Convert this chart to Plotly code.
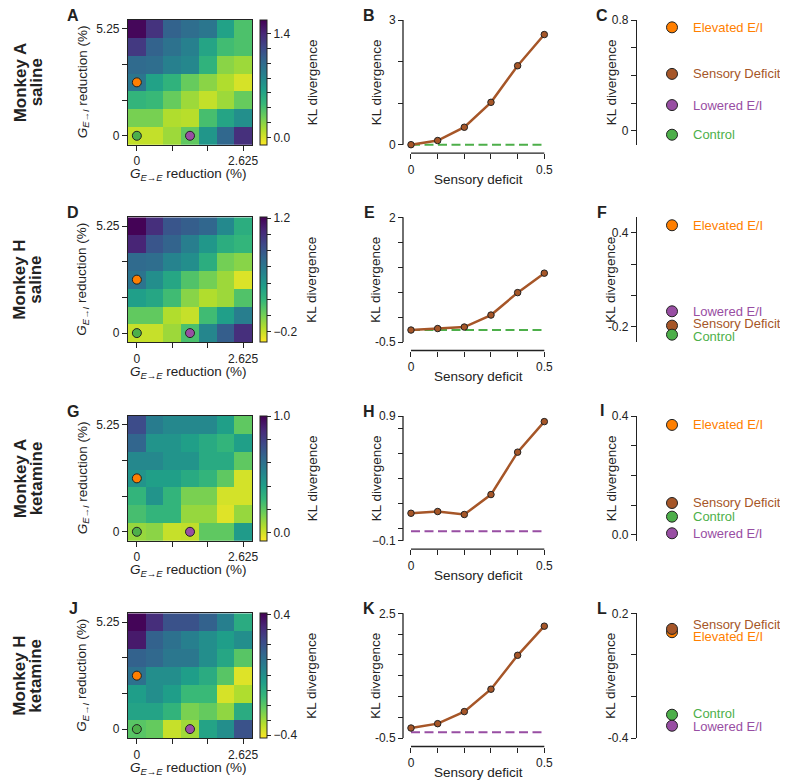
import plotly.graph_objects as go

# page body adds an 8px margin, so the figure is sized to fill the rest of the window
PAGE_W, PAGE_H = 788, 782
OFF = 8
W, H = PAGE_W - OFF, PAGE_H - OFF
FONT = "Liberation Sans, Arial, Helvetica, sans-serif"
INK = "#222222"

# ---------------- data ----------------
row_names = [("Monkey A", "saline"), ("Monkey H", "saline"),
             ("Monkey A", "ketamine"), ("Monkey H", "ketamine")]
panel_letters = [["A", "B", "C"], ["D", "E", "F"], ["G", "H", "I"], ["J", "K", "L"]]

gee_levels = [0, 0.4375, 0.875, 1.3125, 1.75, 2.1875, 2.625]
gei_levels = [0, 0.875, 1.75, 2.625, 3.5, 4.375, 5.25]
gee_ticks = [0, 0.875, 1.75, 2.625]
gee_ticktext = ["0", "", "", "2.625"]
gei_ticks = [0, 1.75, 3.5, 5.25]
gei_ticktext = ["0", "", "", "5.25"]

# KL divergence maps; rows listed from top (G_E->I = 5.25) to bottom (0)
kl_map_A_saline = [
    [1.55, 1.33, 1.05, 0.98, 0.92, 0.62, 0.38],
    [1.30, 1.05, 0.95, 0.85, 0.60, 0.42, 0.38],
    [1.00, 0.98, 0.85, 0.80, 0.50, 0.20, 0.15],
    [0.92, 0.62, 0.50, 0.30, 0.20, 0.10, 0.00],
    [0.48, 0.45, 0.30, 0.15, 0.05, 0.15, 0.30],
    [0.25, 0.25, 0.10, 0.08, 0.40, 0.60, 0.75],
    [0.05, 0.05, 0.15, 0.32, 0.70, 1.02, 1.35],
]
kl_map_H_saline = [
    [1.20, 1.00, 0.80, 0.75, 0.70, 0.48, 0.25],
    [1.05, 0.80, 0.72, 0.55, 0.40, 0.25, 0.20],
    [0.68, 0.66, 0.52, 0.45, 0.25, 0.00, -0.05],
    [0.62, 0.45, 0.30, 0.10, 0.00, -0.10, -0.25],
    [0.35, 0.30, 0.15, -0.05, -0.15, -0.10, 0.10],
    [0.05, 0.05, -0.15, -0.20, 0.15, 0.35, 0.55],
    [-0.20, -0.20, -0.10, 0.12, 0.50, 0.75, 1.00],
]
kl_map_A_ketamine = [
    [0.75, 0.55, 0.50, 0.50, 0.50, 0.40, 0.20],
    [0.65, 0.45, 0.45, 0.40, 0.35, 0.30, 0.40],
    [0.50, 0.50, 0.45, 0.45, 0.35, 0.35, 0.20],
    [0.45, 0.40, 0.40, 0.35, 0.30, 0.20, 0.00],
    [0.30, 0.45, 0.30, 0.15, 0.15, 0.00, 0.00],
    [0.25, 0.30, 0.30, 0.10, 0.10, -0.02, 0.10],
    [0.10, 0.12, 0.02, 0.03, 0.20, 0.20, 0.42],
]
kl_map_H_ketamine = [
    [0.40, 0.30, 0.20, 0.20, 0.15, 0.05, -0.10],
    [0.35, 0.15, 0.10, 0.05, 0.00, -0.05, 0.00],
    [0.15, 0.13, 0.08, 0.08, 0.00, -0.08, -0.20],
    [0.10, 0.00, 0.00, -0.05, -0.10, -0.20, -0.38],
    [-0.05, 0.00, -0.05, -0.15, -0.15, -0.37, -0.32],
    [-0.07, -0.07, -0.13, -0.25, -0.22, -0.28, -0.10],
    [-0.20, -0.22, -0.35, -0.30, -0.07, 0.00, 0.20],
]
kl_maps = [kl_map_A_saline, kl_map_H_saline, kl_map_A_ketamine, kl_map_H_ketamine]

cb_ranges = [(-0.1, 1.58), (-0.33, 1.21), (-0.07, 1.0), (-0.42, 0.41)]
cb_ticks = [
    [0, 0.2, 0.4, 0.6, 0.8, 1.0, 1.2, 1.4],
    [-0.2, 0, 0.2, 0.4, 0.6, 0.8, 1.0, 1.2],
    [0, 0.2, 0.4, 0.6, 0.8, 1.0],
    [-0.4, -0.3, -0.2, -0.1, 0, 0.1, 0.2, 0.3, 0.4],
]
cb_ticktext = [
    ["0.0", "", "", "", "", "", "", "1.4"],
    ["\u22120.2", "", "", "", "", "", "", "1.2"],
    ["0.0", "", "", "", "", "1.0"],
    ["\u22120.4", "", "", "", "", "", "", "", "0.4"],
]

cond_names = ["Elevated E/I", "Sensory Deficit", "Lowered E/I", "Control"]
cond_colors = {"Elevated E/I": "#ff7f00", "Sensory Deficit": "#a65628",
               "Lowered E/I": "#984ea3", "Control": "#4daf4a"}

# parameter locations of conditions on the maps
map_cond = ["Control", "Elevated E/I", "Lowered E/I"]
map_gee = [0, 0, 1.3125]
map_gei = [0, 2.625, 0]

sensory_deficit = [0, 0.1, 0.2, 0.3, 0.4, 0.5]
sd_ticktext = ["0", "", "", "", "", "0.5"]
kl_sd = [
    [0.0, 0.10, 0.42, 1.02, 1.90, 2.65],
    [-0.26, -0.23, -0.20, 0.04, 0.49, 0.88],
    [0.12, 0.134, 0.11, 0.27, 0.61, 0.855],
    [-0.26, -0.155, 0.135, 0.674, 1.49, 2.19],
]
ref_cond = ["Control", "Control", "Lowered E/I", "Lowered E/I"]
ref_kl = [0.0, -0.26, -0.025, -0.36]
line_yticks = [
    [0, 1, 2, 3],
    [-0.5, 0, 0.5, 1, 1.5, 2],
    [-0.1, 0, 0.2, 0.4, 0.6, 0.8, 0.9],
    [-0.5, 0, 0.5, 1, 1.5, 2, 2.5],
]
line_yticktext = [
    ["0", "", "", "3"],
    ["-0.5", "", "", "", "", "2"],
    ["\u22120.1", "", "", "", "", "", "0.9"],
    ["-0.5", "", "", "", "", "", "2.5"],
]

# condition KL values (order = cond_names)
cond_kl = [
    [0.747, 0.411, 0.186, -0.028],
    [0.449, -0.195, -0.103, -0.253],
    [0.370, 0.107, 0.005, 0.061],
    [0.109, 0.125, -0.341, -0.288],
]
dot_ranges = [(-0.1, 0.8), (-0.3, 0.5), (-0.02, 0.4), (-0.4, 0.2)]
dot_ticks = [[0, 0.2, 0.4, 0.6, 0.8], [-0.2, 0, 0.2, 0.4], [0, 0.1, 0.2, 0.3, 0.4], [-0.4, -0.2, 0, 0.2]]
dot_ticktext = [["0", "", "", "", "0.8"], ["-0.2", "", "", "0.4"],
                ["0.0", "", "", "", "0.4"], ["-0.4", "", "", "0.2"]]
dot_draw_order = ["Elevated E/I", "Lowered E/I", "Sensory Deficit", "Control"]

# ---------------- geometry (window pixels) ----------------
row_top = [20, 217.3, 416, 613.3]
PANEL_H = 124.7
HM_X0, HM_X1 = 128, 252
CB_X = 260
LN_X0, LN_X1 = 411, 544.3
LN_YSPINE = 403
DOT_SPINE = 636

def P(x):
    return (x - OFF) / W

def Q(y):
    return 1 - (y - OFF) / H

fig = go.Figure()
layout_axes = {}
shapes = []
annotations = []

def ann(text, x, y, size=13, bold=False, angle=0, color=INK, xanchor="center"):
    annotations.append(dict(
        text=f"<b>{text}</b>" if bold else text, x=P(x), y=Q(y), xref="paper", yref="paper",
        showarrow=False, textangle=angle, xanchor=xanchor, yanchor="middle",
        font=dict(size=size, color=color, family=FONT)))

tick_common = dict(ticks="outside", ticklen=5, tickwidth=1.1, tickcolor=INK,
                   tickfont=dict(size=12, color=INK, family=FONT),
                   showgrid=False, zeroline=False, automargin=False)

def spread_labels(vals, gap):
    pos = list(vals)
    order = sorted(range(len(vals)), key=lambda i: -vals[i])
    for _ in range(200):
        moved = False
        for a, b in zip(order[:-1], order[1:]):
            d = pos[a] - pos[b]
            if d < gap - 1e-9:
                shift = (gap - d) / 2
                pos[a] += shift
                pos[b] -= shift
                moved = True
        if not moved:
            break
    return pos

for r in range(4):
    top = row_top[r]
    bot = top + PANEL_H
    mid = (top + bot) / 2

    # ---- heatmap ----
    n = 3 * r + 1
    z = kl_maps[r][::-1]
    zmin, zmax = cb_ranges[r]
    fig.add_trace(go.Heatmap(
        x=gee_levels, y=gei_levels, z=z, colorscale="Viridis", reversescale=True,
        zmin=zmin, zmax=zmax, xaxis=f"x{n}", yaxis=f"y{n}",
        colorbar=dict(x=P(CB_X), xanchor="left", y=Q(top), yanchor="top",
                      len=PANEL_H / H, lenmode="fraction", thickness=7, xpad=0, ypad=0,
                      outlinewidth=1, outlinecolor=INK,
                      tickvals=cb_ticks[r], ticktext=cb_ticktext[r], ticks="outside",
                      ticklen=4, tickwidth=1, tickcolor=INK,
                      tickfont=dict(size=12, color=INK, family=FONT))))
    fig.add_trace(go.Scatter(
        x=map_gee, y=map_gei, mode="markers", xaxis=f"x{n}", yaxis=f"y{n}",
        marker=dict(size=9, color=[cond_colors[c] for c in map_cond],
                    line=dict(width=1, color=INK)), cliponaxis=False, hoverinfo="skip"))
    dx = (gee_levels[1] - gee_levels[0]) / 2
    dy = (gei_levels[1] - gei_levels[0]) / 2
    layout_axes[f"xaxis{n}"] = dict(domain=[P(HM_X0), P(HM_X1)], anchor=f"y{n}",
                                    range=[gee_levels[0] - dx, gee_levels[-1] + dx],
                                    tickvals=gee_ticks, ticktext=gee_ticktext,
                                    showline=True, mirror=True, linecolor=INK, linewidth=1.2,
                                    **tick_common)
    layout_axes[f"yaxis{n}"] = dict(domain=[Q(bot), Q(top)], anchor=f"x{n}",
                                    range=[gei_levels[0] - dy, gei_levels[-1] + dy],
                                    tickvals=gei_ticks, ticktext=gei_ticktext,
                                    showline=True, mirror=True, linecolor=INK, linewidth=1.2,
                                    **tick_common)
    ann("<i>G</i><sub><i>E</i>\u2192<i>E</i></sub> reduction (%)", 188, bot + 30, size=13.5)
    ann("<i>G</i><sub><i>E</i>\u2192<i>I</i></sub> reduction (%)", 83, mid, size=13.5, angle=-90)
    ann("KL divergence", 312, mid, size=13.5, angle=-90)
    line1, line2 = row_names[r]
    ann(line1, 20, mid, size=17, bold=True, angle=-90)
    ann(line2, 36, mid, size=17, bold=True, angle=-90)

    # ---- line panel ----
    n = 3 * r + 2
    x_lo, x_hi = sensory_deficit[0], sensory_deficit[-1]
    kx = (LN_X1 - LN_X0) / (x_hi - x_lo)
    padx = 0.02
    ymin, ymax = line_yticks[r][0], line_yticks[r][-1]
    ky = (bot - top) / (ymax - ymin)
    pady = 0.04 * (ymax - ymin)
    xspine = bot + 8.5
    fig.add_trace(go.Scatter(
        x=sensory_deficit, y=[ref_kl[r]] * len(sensory_deficit), mode="lines",
        xaxis=f"x{n}", yaxis=f"y{n}", hoverinfo="skip",
        line=dict(color=cond_colors[ref_cond[r]], width=2, dash="9px,4.5px")))
    fig.add_trace(go.Scatter(
        x=sensory_deficit, y=kl_sd[r], mode="lines+markers", xaxis=f"x{n}", yaxis=f"y{n}",
        line=dict(color=cond_colors["Sensory Deficit"], width=2.5),
        marker=dict(size=6.5, color=cond_colors["Sensory Deficit"], line=dict(width=1, color=INK)),
        cliponaxis=False, hoverinfo="skip"))
    layout_axes[f"xaxis{n}"] = dict(domain=[P(LN_X0 - padx * kx), P(LN_X1 + padx * kx)],
                                    range=[x_lo - padx, x_hi + padx], anchor="free",
                                    position=Q(xspine), showline=False,
                                    tickvals=sensory_deficit, ticktext=sd_ticktext, **tick_common)
    layout_axes[f"yaxis{n}"] = dict(domain=[Q(bot + pady * ky), Q(top - pady * ky)],
                                    range=[ymin - pady, ymax + pady], anchor="free",
                                    position=P(LN_YSPINE), showline=False,
                                    tickvals=line_yticks[r], ticktext=line_yticktext[r], **tick_common)
    shapes.append(dict(type="line", xref="paper", yref=f"y{n}", x0=P(LN_YSPINE), x1=P(LN_YSPINE),
                       y0=ymin, y1=ymax, line=dict(color=INK, width=1.3)))
    shapes.append(dict(type="line", xref=f"x{n}", yref="paper", x0=x_lo, x1=x_hi,
                       y0=Q(xspine), y1=Q(xspine), line=dict(color=INK, width=1.3)))
    ann("Sensory deficit", 478, xspine + 26, size=13.5)
    ann("KL divergence", 376, mid, size=13.5, angle=-90)

    # ---- condition dot panel ----
    n = 3 * r + 3
    d0, d1 = dot_ranges[r]
    vals = dict(zip(cond_names, cond_kl[r]))
    order = dot_draw_order
    fig.add_trace(go.Scatter(
        x=[0] * len(order), y=[vals[c] for c in order], mode="markers",
        xaxis=f"x{n}", yaxis=f"y{n}", cliponaxis=False, hoverinfo="skip",
        marker=dict(size=11, color=[cond_colors[c] for c in order], line=dict(width=1, color=INK))))
    layout_axes[f"xaxis{n}"] = dict(domain=[P(DOT_SPINE), P(708)], range=[-1, 1],
                                    visible=False, anchor=f"y{n}", automargin=False)
    layout_axes[f"yaxis{n}"] = dict(domain=[Q(bot), Q(top)], range=[d0, d1], anchor="free",
                                    position=P(DOT_SPINE), showline=True, linecolor=INK,
                                    linewidth=1.3, tickvals=dot_ticks[r],
                                    ticktext=dot_ticktext[r], **tick_common)
    gap = 12.5 * (d1 - d0) / (bot - top)
    label_y = spread_labels(cond_kl[r], gap)
    for c, ly in zip(cond_names, label_y):
        annotations.append(dict(text=c, x=0, y=ly, xref=f"x{n}", yref=f"y{n}", showarrow=False,
                                xanchor="left", yanchor="middle", xshift=19,
                                font=dict(size=13, color=cond_colors[c], family=FONT)))
    ann("KL divergence", 611, mid, size=13.5, angle=-90)

    # panel letters
    letter_pos = [(73, top - 4.5), (369, top - 4.5), (602, top - 5)]
    for L, (lx, ly) in zip(panel_letters[r], letter_pos):
        ann(L, lx, ly, size=16, bold=True)

fig.update_layout(
    width=W, height=H, margin=dict(l=0, r=0, t=0, b=0, autoexpand=False),
    paper_bgcolor="white", plot_bgcolor="white", showlegend=False,
    font=dict(family=FONT, color=INK, size=12),
    shapes=shapes, annotations=annotations, **layout_axes)

fig.write_html("out.html")
